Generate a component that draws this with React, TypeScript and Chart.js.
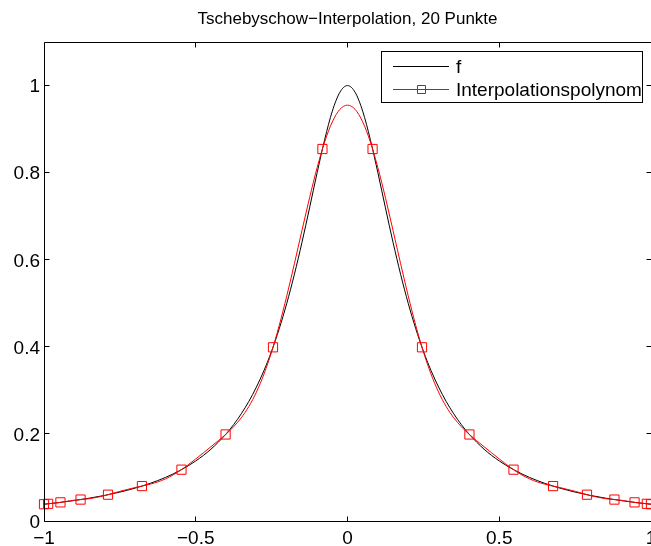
import React, { useEffect, useRef } from "react";
import { Chart, registerables } from "chart.js";

Chart.register(...registerables);

const TITLE = "Tschebyschow−Interpolation, 20 Punkte";
const LEGEND_LABELS = ["f", "Interpolationspolynom"];

const xGrid = [
  -1, -0.95, -0.9, -0.85, -0.8, -0.75, -0.7, -0.65, -0.6, -0.55, -0.5, -0.45, -0.4,
  -0.375, -0.35, -0.325, -0.3, -0.275, -0.25, -0.225, -0.2, -0.175, -0.15, -0.125, -0.1,
  -0.075, -0.05, -0.025, 0, 0.025, 0.05, 0.075, 0.1, 0.125, 0.15, 0.175, 0.2, 0.225,
  0.25, 0.275, 0.3, 0.325, 0.35, 0.375, 0.4, 0.45, 0.5, 0.55, 0.6, 0.65, 0.7, 0.75,
  0.8, 0.85, 0.9, 0.95, 1,
];

const fValues = [
  0.0385, 0.0424, 0.0471, 0.0525, 0.0588, 0.0664, 0.0755, 0.0865, 0.1, 0.1168, 0.1379, 0.1649, 0.2,
  0.2215, 0.2462, 0.2747, 0.3077, 0.3459, 0.3902, 0.4414, 0.5, 0.5664, 0.64, 0.7191, 0.8,
  0.8767, 0.9412, 0.9846, 1, 0.9846, 0.9412, 0.8767, 0.8, 0.7191, 0.64, 0.5664, 0.5, 0.4414,
  0.3902, 0.3459, 0.3077, 0.2747, 0.2462, 0.2215, 0.2, 0.1649, 0.1379, 0.1168, 0.1, 0.0865, 0.0755, 0.0664,
  0.0588, 0.0525, 0.0471, 0.0424, 0.0385,
];

const polyValues = [
  0.0385, 0.0423, 0.0478, 0.0513, 0.0583, 0.0682, 0.0768, 0.0846, 0.0966, 0.1165, 0.1426, 0.1706, 0.1997,
  0.2166, 0.2371, 0.263, 0.2961, 0.3377, 0.3887, 0.4489, 0.5171, 0.5909, 0.6673, 0.7423, 0.8117,
  0.8711, 0.9166, 0.9453, 0.955, 0.9453, 0.9166, 0.8711, 0.8117, 0.7423, 0.6673, 0.5909, 0.5171, 0.4489,
  0.3887, 0.3377, 0.2961, 0.263, 0.2371, 0.2166, 0.1997, 0.1706, 0.1426, 0.1165, 0.0966, 0.0846, 0.0768, 0.0682,
  0.0583, 0.0513, 0.0478, 0.0423, 0.0385,
];

const nodeX = [
  -1, -0.9864, -0.9458, -0.8795, -0.7891, -0.6773, -0.547, -0.4017, -0.2455, -0.0826,
  0.0826, 0.2455, 0.4017, 0.547, 0.6773, 0.7891, 0.8795, 0.9458, 0.9864, 1,
];
const nodeY = [
  0.0385, 0.0395, 0.0428, 0.0492, 0.0604, 0.0802, 0.1179, 0.1987, 0.3989, 0.8543,
  0.8543, 0.3989, 0.1987, 0.1179, 0.0802, 0.0604, 0.0492, 0.0428, 0.0395, 0.0385,
];

const xTickValues = [-1, -0.5, 0, 0.5, 1];
const xTickLabels = ["−1", "−0.5", "0", "0.5", "1"];
const yTickValues = [0, 0.2, 0.4, 0.6, 0.8, 1];
const yTickLabels = ["0", "0.2", "0.4", "0.6", "0.8", "1"];

const FONT = "'Liberation Sans', Arial, Helvetica, sans-serif";
const RED = "#ff0000";

const framePlugin = {
  id: "matlabFrame",
  afterDraw(chart: any) {
    const ctx = chart.ctx;
    const { left, right, top, bottom } = chart.chartArea;
    const xs = chart.scales.x;
    const ys = chart.scales.y;
    const L = Math.floor(left) + 0.5;
    const R = Math.floor(right) + 0.5;
    const T = Math.floor(top) + 0.5;
    const B = Math.floor(bottom) + 0.5;
    ctx.save();
    ctx.strokeStyle = "#000";
    ctx.lineWidth = 1;
    ctx.beginPath();
    ctx.rect(L, T, R - L, B - T);
    ctx.stroke();
    const tl = 5;
    ctx.beginPath();
    xTickValues.forEach((v) => {
      const px = Math.floor(xs.getPixelForValue(v)) + 0.5;
      ctx.moveTo(px, B);
      ctx.lineTo(px, B - tl);
      ctx.moveTo(px, T);
      ctx.lineTo(px, T + tl);
    });
    yTickValues.forEach((v) => {
      const py = Math.floor(ys.getPixelForValue(v)) + 0.5;
      ctx.moveTo(L, py);
      ctx.lineTo(L + tl, py);
      ctx.moveTo(R, py);
      ctx.lineTo(R - tl, py);
    });
    ctx.stroke();

    ctx.fillStyle = "#000";
    ctx.font = `19px ${FONT}`;
    ctx.textBaseline = "alphabetic";
    ctx.textAlign = "center";
    xTickValues.forEach((v, i) => {
      const px = xs.getPixelForValue(v);
      ctx.fillText(xTickLabels[i], px, 544);
    });
    ctx.textAlign = "right";
    yTickValues.forEach((v, i) => {
      const py = ys.getPixelForValue(v);
      ctx.fillText(yTickLabels[i], 40, py + 6.8);
    });

    ctx.font = `17px ${FONT}`;
    ctx.textAlign = "center";
    ctx.fillText(TITLE, (left + right) / 2, 24);

    // legend
    const bx = 381.5, by = 51.5, bw = 261, bh = 51;
    ctx.fillStyle = "#fff";
    ctx.fillRect(bx, by, bw, bh);
    ctx.strokeStyle = "#000";
    ctx.strokeRect(bx, by, bw, bh);
    ctx.beginPath();
    ctx.moveTo(393, 66.5);
    ctx.lineTo(449, 66.5);
    ctx.stroke();
    ctx.strokeStyle = RED;
    ctx.beginPath();
    ctx.moveTo(393, 89.5);
    ctx.lineTo(449, 89.5);
    ctx.stroke();
    ctx.beginPath();
    ctx.rect(417.5, 85.5, 8, 8);
    ctx.stroke();
    ctx.fillStyle = "#000";
    ctx.font = `19px ${FONT}`;
    ctx.textAlign = "left";
    ctx.fillText(LEGEND_LABELS[0], 456, 72.5);
    ctx.fillText(LEGEND_LABELS[1], 456, 95.5);
    ctx.restore();
  },
};

export default function App() {
  const ref = useRef<HTMLCanvasElement | null>(null);
  useEffect(() => {
    document.body.style.margin = "0";
    document.body.style.overflow = "hidden";
    const canvas = ref.current;
    if (!canvas) return;
    const chart = new Chart(canvas, {
      type: "line",
      data: {
        datasets: [
          {
            label: "nodes",
            data: nodeX.map((x, i) => ({ x, y: nodeY[i] })),
            showLine: false,
            pointStyle: "rect",
            pointRadius: 6.5,
            pointBorderColor: RED,
            pointBackgroundColor: "rgba(0,0,0,0)",
            pointBorderWidth: 1,
            borderColor: RED,
            clip: false as any,
          },
          {
            label: LEGEND_LABELS[1],
            data: xGrid.map((x, i) => ({ x, y: polyValues[i] })),
            borderColor: RED,
            borderWidth: 1,
            pointRadius: 0,
            cubicInterpolationMode: "monotone",
          },
          {
            label: LEGEND_LABELS[0],
            data: xGrid.map((x, i) => ({ x, y: fValues[i] })),
            borderColor: "#000",
            borderWidth: 1,
            pointRadius: 0,
            cubicInterpolationMode: "monotone",
          },
        ],
      },
      options: {
        animation: false,
        responsive: false,
        devicePixelRatio: 1,
        layout: { autoPadding: false, padding: { left: 44, right: 0, top: 42, bottom: 25 } },
        plugins: {
          legend: { display: false },
          title: { display: false },
          tooltip: { enabled: false },
        },
        events: [],
        scales: {
          x: { type: "linear", min: -1, max: 1, display: false },
          y: { type: "linear", min: 0, max: 1.1, display: false },
        },
      },
      plugins: [framePlugin],
    });
    return () => chart.destroy();
  }, []);
  return <canvas ref={ref} width={651} height={546} style={{ display: "block" }} />;
}
